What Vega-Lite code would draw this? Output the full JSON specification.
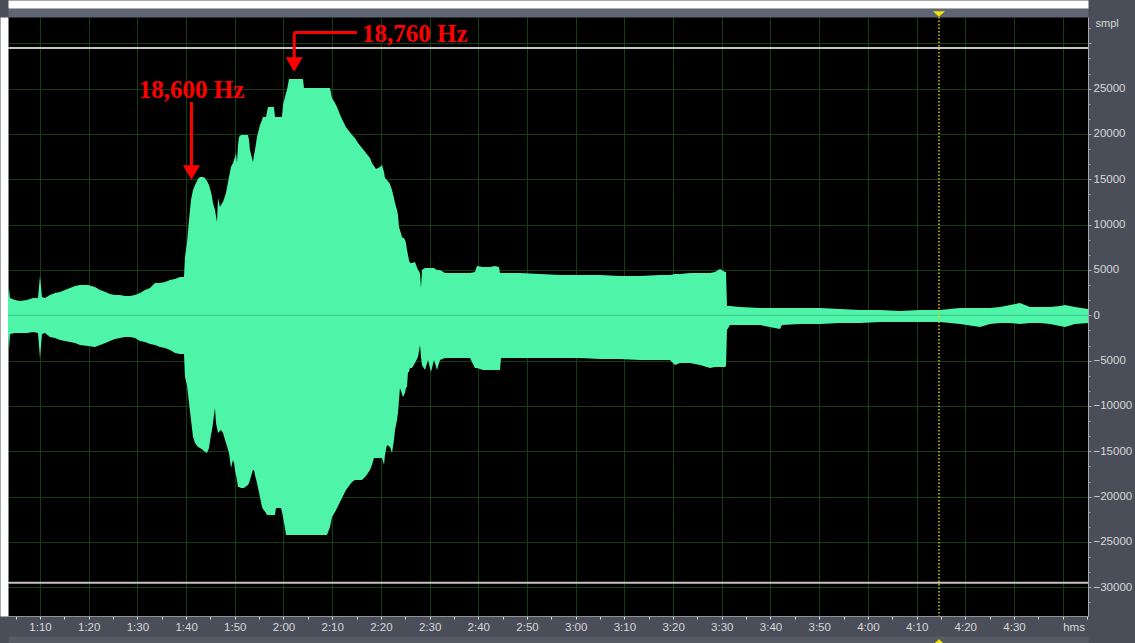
{
  "$schema": "https://vega.github.io/schema/vega-lite/v6.json",
  "width": 1080,
  "height": 599,
  "autosize": {"type": "none"},
  "padding": {"left": 8, "top": 17, "right": 47, "bottom": 27},
  "background": "#4a4e58",
  "config": {
    "view": {"fill": "#000000", "stroke": null},
    "font": "Liberation Sans"
  },
  "resolve": {"axis": {"x": "independent", "y": "independent"}},
  "datasets": {
    "wave": [
      {"t": 63.43, "hi": 1798, "lo": -2063},
      {"t": 63.63, "hi": 3011, "lo": -3827},
      {"t": 63.84, "hi": 1908, "lo": -2063},
      {"t": 64.87, "hi": 1688, "lo": -1952},
      {"t": 65.89, "hi": 1577, "lo": -1952},
      {"t": 67.33, "hi": 1688, "lo": -1952},
      {"t": 68.56, "hi": 1908, "lo": -1842},
      {"t": 69.59, "hi": 1908, "lo": -1952},
      {"t": 70.0, "hi": 4335, "lo": -4710},
      {"t": 70.41, "hi": 2018, "lo": -2063},
      {"t": 71.03, "hi": 1908, "lo": -1952},
      {"t": 72.05, "hi": 2239, "lo": -2394},
      {"t": 73.08, "hi": 2460, "lo": -2504},
      {"t": 74.11, "hi": 2570, "lo": -2724},
      {"t": 75.13, "hi": 2791, "lo": -2835},
      {"t": 76.16, "hi": 3011, "lo": -2945},
      {"t": 77.19, "hi": 3232, "lo": -3055},
      {"t": 78.21, "hi": 3342, "lo": -3276},
      {"t": 79.86, "hi": 3342, "lo": -3386},
      {"t": 81.29, "hi": 3121, "lo": -3497},
      {"t": 82.32, "hi": 2791, "lo": -3276},
      {"t": 82.94, "hi": 2680, "lo": -3166},
      {"t": 84.37, "hi": 2349, "lo": -2835},
      {"t": 85.4, "hi": 2239, "lo": -2614},
      {"t": 86.43, "hi": 2239, "lo": -2504},
      {"t": 87.45, "hi": 2129, "lo": -2394},
      {"t": 88.48, "hi": 2129, "lo": -2394},
      {"t": 89.51, "hi": 2239, "lo": -2504},
      {"t": 90.53, "hi": 2460, "lo": -2835},
      {"t": 91.56, "hi": 2791, "lo": -2945},
      {"t": 92.59, "hi": 3011, "lo": -3166},
      {"t": 93.61, "hi": 3563, "lo": -3276},
      {"t": 94.64, "hi": 3563, "lo": -3497},
      {"t": 95.67, "hi": 3673, "lo": -3607},
      {"t": 96.69, "hi": 3894, "lo": -3827},
      {"t": 97.72, "hi": 4004, "lo": -4158},
      {"t": 98.75, "hi": 4224, "lo": -4269},
      {"t": 99.57, "hi": 4224, "lo": -4269},
      {"t": 99.77, "hi": 6430, "lo": -6806},
      {"t": 100.18, "hi": 7975, "lo": -7688},
      {"t": 100.6, "hi": 10512, "lo": -9673},
      {"t": 101.01, "hi": 12718, "lo": -11548},
      {"t": 101.42, "hi": 13821, "lo": -13424},
      {"t": 101.83, "hi": 14372, "lo": -14085},
      {"t": 102.44, "hi": 15034, "lo": -14527},
      {"t": 102.85, "hi": 15254, "lo": -14637},
      {"t": 103.47, "hi": 15254, "lo": -14857},
      {"t": 103.88, "hi": 15144, "lo": -15078},
      {"t": 104.29, "hi": 14813, "lo": -15188},
      {"t": 104.7, "hi": 14372, "lo": -14637},
      {"t": 105.11, "hi": 13600, "lo": -13203},
      {"t": 105.32, "hi": 13048, "lo": -12651},
      {"t": 105.52, "hi": 12387, "lo": -11879},
      {"t": 105.93, "hi": 11615, "lo": -10225},
      {"t": 106.14, "hi": 10953, "lo": -11879},
      {"t": 106.35, "hi": 10291, "lo": -12431},
      {"t": 106.55, "hi": 12938, "lo": -12982},
      {"t": 106.96, "hi": 11945, "lo": -12762},
      {"t": 107.17, "hi": 12166, "lo": -12651},
      {"t": 107.58, "hi": 12497, "lo": -12982},
      {"t": 108.19, "hi": 13490, "lo": -14085},
      {"t": 108.81, "hi": 15254, "lo": -15188},
      {"t": 109.22, "hi": 16357, "lo": -16843},
      {"t": 109.63, "hi": 16799, "lo": -15960},
      {"t": 109.84, "hi": 17130, "lo": -16291},
      {"t": 110.04, "hi": 17460, "lo": -17063},
      {"t": 110.25, "hi": 17902, "lo": -17615},
      {"t": 110.45, "hi": 16799, "lo": -18166},
      {"t": 110.66, "hi": 18784, "lo": -18939},
      {"t": 110.86, "hi": 19666, "lo": -18939},
      {"t": 111.27, "hi": 19887, "lo": -19049},
      {"t": 111.89, "hi": 19887, "lo": -19049},
      {"t": 112.71, "hi": 19887, "lo": -18718},
      {"t": 112.92, "hi": 19336, "lo": -18497},
      {"t": 113.12, "hi": 18233, "lo": -18166},
      {"t": 113.53, "hi": 17350, "lo": -17394},
      {"t": 113.74, "hi": 16909, "lo": -17063},
      {"t": 113.94, "hi": 17681, "lo": -17063},
      {"t": 114.15, "hi": 18233, "lo": -17615},
      {"t": 114.56, "hi": 19666, "lo": -18497},
      {"t": 115.17, "hi": 20990, "lo": -20042},
      {"t": 115.59, "hi": 21542, "lo": -21145},
      {"t": 115.79, "hi": 21872, "lo": -21365},
      {"t": 116.41, "hi": 21872, "lo": -21806},
      {"t": 116.61, "hi": 22424, "lo": -22027},
      {"t": 116.82, "hi": 22975, "lo": -22027},
      {"t": 118.05, "hi": 22975, "lo": -22027},
      {"t": 118.25, "hi": 21872, "lo": -22027},
      {"t": 118.46, "hi": 21872, "lo": -21255},
      {"t": 119.49, "hi": 21872, "lo": -21255},
      {"t": 119.69, "hi": 21872, "lo": -21696},
      {"t": 119.9, "hi": 23196, "lo": -22248},
      {"t": 120.31, "hi": 24078, "lo": -23461},
      {"t": 120.51, "hi": 24520, "lo": -24233},
      {"t": 120.72, "hi": 24851, "lo": -24233},
      {"t": 121.13, "hi": 26064, "lo": -24233},
      {"t": 124.0, "hi": 26064, "lo": -24233},
      {"t": 124.21, "hi": 25071, "lo": -24233},
      {"t": 128.93, "hi": 25071, "lo": -24233},
      {"t": 129.55, "hi": 25071, "lo": -23351},
      {"t": 129.96, "hi": 23968, "lo": -22248},
      {"t": 130.58, "hi": 23417, "lo": -21696},
      {"t": 130.99, "hi": 22975, "lo": -21255},
      {"t": 131.81, "hi": 21872, "lo": -20372},
      {"t": 132.83, "hi": 20769, "lo": -19269},
      {"t": 134.07, "hi": 19887, "lo": -18387},
      {"t": 134.68, "hi": 19556, "lo": -18166},
      {"t": 135.3, "hi": 19005, "lo": -18166},
      {"t": 136.12, "hi": 18453, "lo": -18166},
      {"t": 136.94, "hi": 17902, "lo": -17725},
      {"t": 137.76, "hi": 17350, "lo": -17063},
      {"t": 138.17, "hi": 16799, "lo": -16512},
      {"t": 138.58, "hi": 16468, "lo": -15740},
      {"t": 139.0, "hi": 16137, "lo": -15740},
      {"t": 139.82, "hi": 16357, "lo": -15740},
      {"t": 140.23, "hi": 16578, "lo": -15740},
      {"t": 140.64, "hi": 15806, "lo": -16512},
      {"t": 140.84, "hi": 15144, "lo": -15409},
      {"t": 141.25, "hi": 14924, "lo": -14306},
      {"t": 141.87, "hi": 14482, "lo": -14527},
      {"t": 142.28, "hi": 13821, "lo": -15188},
      {"t": 142.69, "hi": 12938, "lo": -13754},
      {"t": 142.9, "hi": 12387, "lo": -12651},
      {"t": 143.31, "hi": 11615, "lo": -11548},
      {"t": 143.51, "hi": 11063, "lo": -10776},
      {"t": 143.72, "hi": 9739, "lo": -9342},
      {"t": 143.92, "hi": 9409, "lo": -8019},
      {"t": 144.33, "hi": 8636, "lo": -8681},
      {"t": 144.54, "hi": 8526, "lo": -9012},
      {"t": 144.74, "hi": 8526, "lo": -8791},
      {"t": 144.95, "hi": 8306, "lo": -8570},
      {"t": 145.15, "hi": 7975, "lo": -8019},
      {"t": 145.36, "hi": 7203, "lo": -7909},
      {"t": 145.57, "hi": 6651, "lo": -6254},
      {"t": 145.77, "hi": 6100, "lo": -6254},
      {"t": 145.98, "hi": 5769, "lo": -5813},
      {"t": 146.39, "hi": 5769, "lo": -5813},
      {"t": 147.0, "hi": 5879, "lo": -5261},
      {"t": 147.62, "hi": 4997, "lo": -4600},
      {"t": 148.03, "hi": 4666, "lo": -3276},
      {"t": 148.24, "hi": 3011, "lo": -4600},
      {"t": 148.44, "hi": 4997, "lo": -5482},
      {"t": 149.06, "hi": 5217, "lo": -6033},
      {"t": 149.67, "hi": 5217, "lo": -4930},
      {"t": 150.29, "hi": 5217, "lo": -6254},
      {"t": 150.9, "hi": 5217, "lo": -4930},
      {"t": 151.52, "hi": 4997, "lo": -6033},
      {"t": 152.14, "hi": 4997, "lo": -4930},
      {"t": 153.16, "hi": 4666, "lo": -4710},
      {"t": 155.22, "hi": 4666, "lo": -4710},
      {"t": 157.27, "hi": 4666, "lo": -4710},
      {"t": 158.3, "hi": 4666, "lo": -4710},
      {"t": 159.32, "hi": 4776, "lo": -5813},
      {"t": 159.73, "hi": 5438, "lo": -5813},
      {"t": 160.97, "hi": 5327, "lo": -6033},
      {"t": 162.4, "hi": 5327, "lo": -6033},
      {"t": 163.43, "hi": 5438, "lo": -6033},
      {"t": 164.25, "hi": 5327, "lo": -6033},
      {"t": 164.46, "hi": 4666, "lo": -6033},
      {"t": 164.66, "hi": 4666, "lo": -4710},
      {"t": 166.51, "hi": 4666, "lo": -4710},
      {"t": 168.56, "hi": 4666, "lo": -4710},
      {"t": 172.67, "hi": 4555, "lo": -4710},
      {"t": 176.78, "hi": 4445, "lo": -4710},
      {"t": 180.88, "hi": 4445, "lo": -4710},
      {"t": 184.99, "hi": 4445, "lo": -4820},
      {"t": 189.1, "hi": 4335, "lo": -4820},
      {"t": 193.2, "hi": 4335, "lo": -4930},
      {"t": 197.31, "hi": 4445, "lo": -4930},
      {"t": 199.36, "hi": 4445, "lo": -4930},
      {"t": 200.39, "hi": 4555, "lo": -5482},
      {"t": 201.42, "hi": 4555, "lo": -5261},
      {"t": 203.47, "hi": 4666, "lo": -5261},
      {"t": 205.52, "hi": 4666, "lo": -5482},
      {"t": 207.58, "hi": 4666, "lo": -5813},
      {"t": 208.61, "hi": 4776, "lo": -5703},
      {"t": 209.63, "hi": 5107, "lo": -5703},
      {"t": 210.66, "hi": 4776, "lo": -5703},
      {"t": 210.87, "hi": 4776, "lo": -5592},
      {"t": 211.07, "hi": 1026, "lo": -1621},
      {"t": 211.68, "hi": 1026, "lo": -1070},
      {"t": 213.74, "hi": 915, "lo": -1070},
      {"t": 217.84, "hi": 805, "lo": -1070},
      {"t": 221.95, "hi": 805, "lo": -1511},
      {"t": 222.36, "hi": 805, "lo": -1070},
      {"t": 226.06, "hi": 805, "lo": -960},
      {"t": 230.17, "hi": 805, "lo": -960},
      {"t": 234.27, "hi": 695, "lo": -849},
      {"t": 238.38, "hi": 585, "lo": -849},
      {"t": 242.49, "hi": 585, "lo": -739},
      {"t": 246.59, "hi": 474, "lo": -739},
      {"t": 250.7, "hi": 585, "lo": -739},
      {"t": 254.81, "hi": 585, "lo": -739},
      {"t": 258.91, "hi": 805, "lo": -960},
      {"t": 263.02, "hi": 805, "lo": -1291},
      {"t": 265.07, "hi": 805, "lo": -960},
      {"t": 267.13, "hi": 915, "lo": -849},
      {"t": 269.18, "hi": 1136, "lo": -849},
      {"t": 271.23, "hi": 1357, "lo": -960},
      {"t": 273.29, "hi": 915, "lo": -849},
      {"t": 275.34, "hi": 915, "lo": -849},
      {"t": 277.39, "hi": 915, "lo": -960},
      {"t": 279.45, "hi": 1026, "lo": -1180},
      {"t": 280.47, "hi": 1136, "lo": -1291},
      {"t": 282.53, "hi": 915, "lo": -960},
      {"t": 285.2, "hi": 695, "lo": -849}
    ],
    "levels": [{"lvl": 29491}, {"lvl": -29491}],
    "one": [{}]
  },
  "layer": [
    {
      "data": {"name": "wave"},
      "mark": {"type": "area", "color": "#4ef5a8", "opacity": 1},
      "encoding": {
        "x": {
          "field": "t",
          "type": "quantitative",
          "scale": {"domain": [63.43, 285.2], "nice": false, "zero": false},
          "axis": {
            "orient": "bottom",
            "title": null,
            "values": [65, 70, 75, 80, 85, 90, 95, 100, 105, 110, 115, 120, 125, 130, 135, 140, 145, 150, 155, 160, 165, 170, 175, 180, 185, 190, 195, 200, 205, 210, 215, 220, 225, 230, 235, 240, 245, 250, 255, 260, 265, 270, 275, 280, 285],
            "labelExpr": "datum.value % 10 !== 0 ? '' : (datum.value >= 280 ? 'hms' : floor(datum.value / 60) + ':' + (datum.value % 60 < 10 ? '0' : '') + (datum.value % 60))",
            "labelOverlap": false,
            "labelFlush": false,
            "labelBound": false,
            "labelFont": "Liberation Sans",
            "labelFontSize": 11.5,
            "labelColor": "#d8d8d8",
            "labelBaseline": "middle",
            "labelAlign": {"condition": {"test": "datum.value >= 280", "value": "left"}, "value": "center"},
            "labelPadding": 8,
            "domain": true,
            "domainColor": "#8e929b",
            "domainWidth": 1,
            "ticks": true,
            "tickColor": "#e0e0e0",
            "tickSize": 3,
            "tickWidth": 1,
            "grid": true,
            "gridColor": "#143d14",
            "gridWidth": 1,
            "gridOpacity": {"condition": {"test": "datum.value % 10 === 0", "value": 1}, "value": 0}
          }
        },
        "y": {
          "field": "hi",
          "type": "quantitative",
          "scale": {"domain": [-33167, 32902], "nice": false, "zero": false},
          "axis": {
            "orient": "right",
            "title": "smpl",
            "titleAngle": 0,
            "titleAlign": "left",
            "titleBaseline": "top",
            "titleX": 7,
            "titleY": 0,
            "titleFont": "Liberation Sans",
            "titleFontSize": 11,
            "titleFontWeight": "normal",
            "titleColor": "#d8d8d8",
            "values": [-30000, -25000, -20000, -15000, -10000, -5000, 0, 5000, 10000, 15000, 20000, 25000, 30000],
            "format": "d",
            "labelExpr": "datum.value === 30000 ? '' : datum.label",
            "labelFont": "Liberation Sans",
            "labelFontSize": 11.5,
            "labelColor": "#d8d8d8",
            "labelAlign": "left",
            "labelBaseline": "middle",
            "labelPadding": 2,
            "labelOverlap": false,
            "labelFlush": false,
            "labelBound": false,
            "domain": true,
            "domainColor": "#a4a8b0",
            "ticks": true,
            "tickColor": "#a4a8b0",
            "tickSize": 3,
            "grid": true,
            "gridColor": "#143d14",
            "gridWidth": 1
          }
        },
        "y2": {"field": "lo"}
      }
    },
    {
      "data": {"name": "one"},
      "mark": {"type": "rule", "color": "#3cc489", "strokeWidth": 1},
      "encoding": {
        "y": {
          "datum": 0,
          "type": "quantitative",
          "axis": {
            "orient": "right",
            "title": null,
            "labels": false,
            "grid": false,
            "domain": false,
            "ticks": true,
            "tickSize": 2,
            "tickColor": "#a4a8b0",
            "values": [-31666.67, -28333.33, -26666.67, -23333.33, -21666.67, -18333.33, -16666.67, -13333.33, -11666.67, -8333.33, -6666.67, -3333.33, -1666.67, 1666.67, 3333.33, 6666.67, 8333.33, 11666.67, 13333.33, 16666.67, 18333.33, 21666.67, 23333.33, 26666.67, 28333.33, 31666.67]
          }
        }
      }
    },
    {
      "data": {"name": "levels"},
      "mark": {"type": "rule", "color": "#c4c4c4", "strokeWidth": 2},
      "encoding": {
        "y": {
          "field": "lvl",
          "type": "quantitative",
          "axis": {"orient": "left", "title": null, "labels": false, "ticks": false, "grid": false, "domain": true, "domainColor": "#ffffff", "domainWidth": 8, "offset": 4}
        }
      }
    },
    {
      "data": {"name": "one"},
      "mark": {"type": "rule", "color": "#d6cc00", "strokeWidth": 1.5, "strokeDash": [1.5, 2]},
      "encoding": {
        "x": {
          "datum": 254.6,
          "type": "quantitative",
          "axis": {"orient": "top", "title": null, "labels": false, "ticks": false, "grid": false, "domain": true, "domainColor": "#5f6572", "domainWidth": 9, "offset": 4.5}
        }
      }
    },
    {
      "data": {"name": "one"},
      "mark": {"type": "point", "shape": "M-1,-0.45L1,-0.45L0,0.45Z", "filled": true, "size": 144, "color": "#f2e600", "opacity": 1, "yOffset": -3},
      "encoding": {
        "x": {
          "datum": 254.6,
          "type": "quantitative",
          "axis": {"orient": "top", "title": null, "labels": false, "ticks": false, "grid": false, "domain": true, "domainColor": "#ffffff", "domainWidth": 8, "offset": 13}
        },
        "y": {"datum": 32902, "type": "quantitative", "axis": null}
      }
    },
    {
      "data": {"name": "one"},
      "mark": {"type": "point", "shape": "M-1,0.45L1,0.45L0,-0.45Z", "filled": true, "size": 144, "color": "#f2e600", "opacity": 1, "yOffset": 26},
      "encoding": {
        "x": {
          "datum": 254.6,
          "type": "quantitative",
          "axis": {"orient": "bottom", "title": null, "labels": false, "ticks": false, "grid": false, "domain": true, "domainColor": "#62687480", "domainWidth": 7, "offset": 23.5}
        },
        "y": {"datum": -33167, "type": "quantitative", "axis": null}
      }
    },
    {
      "data": {"name": "one"},
      "mark": {"type": "rule", "color": "#ff0000", "strokeWidth": 3},
      "encoding": {
        "x": {"datum": 101.1, "type": "quantitative", "axis": null},
        "y": {"datum": 23527, "type": "quantitative", "axis": null},
        "y2": {"datum": 16468}
      }
    },
    {
      "data": {"name": "one"},
      "mark": {"type": "point", "shape": "triangle-down", "filled": true, "size": 289, "color": "#ff0000", "opacity": 1},
      "encoding": {
        "x": {"datum": 101.1, "type": "quantitative", "axis": null},
        "y": {"datum": 15751, "type": "quantitative", "axis": null}
      }
    },
    {
      "data": {"name": "one"},
      "mark": {"type": "rule", "color": "#ff0000", "strokeWidth": 3},
      "encoding": {
        "x": {"datum": 122.2, "type": "quantitative", "axis": null},
        "x2": {"datum": 135.1},
        "y": {"datum": 31193, "type": "quantitative", "axis": null}
      }
    },
    {
      "data": {"name": "one"},
      "mark": {"type": "rule", "color": "#ff0000", "strokeWidth": 3},
      "encoding": {
        "x": {"datum": 122.2, "type": "quantitative", "axis": null},
        "y": {"datum": 31193, "type": "quantitative", "axis": null},
        "y2": {"datum": 28380}
      }
    },
    {
      "data": {"name": "one"},
      "mark": {"type": "point", "shape": "triangle-down", "filled": true, "size": 289, "color": "#ff0000", "opacity": 1},
      "encoding": {
        "x": {"datum": 122.2, "type": "quantitative", "axis": null},
        "y": {"datum": 27663, "type": "quantitative", "axis": null}
      }
    },
    {
      "data": {"name": "one"},
      "mark": {"type": "text", "text": "18,600 Hz", "font": "Liberation Serif", "fontSize": 25, "fontWeight": "bold", "color": "#ff0000", "align": "center", "baseline": "alphabetic"},
      "encoding": {
        "x": {"datum": 101.1, "type": "quantitative", "axis": null},
        "y": {"datum": 23968, "type": "quantitative", "axis": null}
      }
    },
    {
      "data": {"name": "one"},
      "mark": {"type": "text", "text": "18,760 Hz", "font": "Liberation Serif", "fontSize": 25, "fontWeight": "bold", "color": "#ff0000", "align": "left", "baseline": "alphabetic"},
      "encoding": {
        "x": {"datum": 136.12, "type": "quantitative", "axis": null},
        "y": {"datum": 30145, "type": "quantitative", "axis": null}
      }
    }
  ]
}
